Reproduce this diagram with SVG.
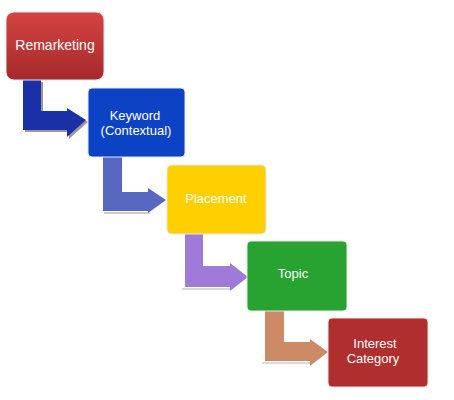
<svg xmlns="http://www.w3.org/2000/svg" width="454" height="400" viewBox="0 0 454 400">
<defs>
<linearGradient id="gRed" x1="0" y1="0" x2="0" y2="1">
<stop offset="0" stop-color="#d54343"/>
<stop offset="1" stop-color="#a52a2a"/>
</linearGradient>
<style>
.box{stroke:#e6e6e6;stroke-width:1}
.lbl{font-family:"Liberation Sans",Arial,sans-serif;font-size:13px;fill:#fff;text-anchor:middle}
.shadow{fill:#555;opacity:0.6}
</style>
</defs>
<rect width="454" height="400" fill="#fff"/>
<g id="connectors">
<path class="shadow" d="M25 82 H43 V113 H69 V110 L88 122 L69 139 V132 H25 Z"/>
<path id="c1" d="M23 80 H41 V111 H67 V108 L86 120 L67 137 V130 H23 Z" fill="#1b30a6"/>
<line x1="104" y1="213" x2="150" y2="213" stroke="#bbb" stroke-width="1.5"/>
<path id="c2" d="M103 157 H122 V192 H148 V188 L166 200 L148 213 V211 H103 Z" fill="#5868c0"/>
<line x1="182" y1="289" x2="230" y2="289" stroke="#ccc" stroke-width="1.5"/>
<path id="c3" d="M185 234 H203 V266 H230 V263 L248 277 L230 291 V287 H185 Z" fill="#a07ad8"/>
<line x1="262" y1="363" x2="310" y2="363" stroke="#ccc" stroke-width="1.5"/>
<path id="c4" d="M265 311 H284 V342 H310 V339 L328 352 L310 366 V361 H265 Z" fill="#cc8a66"/>
</g>
<g id="remarketing">
<rect class="box" x="6" y="12" width="98" height="68" rx="8" fill="url(#gRed)"/>
<text class="lbl" x="55" y="50" style="font-size:14px">Remarketing</text>
</g>
<g id="keyword">
<rect class="box" x="88" y="88" width="97" height="69" rx="4" fill="#0c43c4"/>
<text class="lbl" x="135" y="120">Keyword</text>
<text class="lbl" x="136" y="135">(Contextual)</text>
</g>
<g id="placement">
<rect class="box" x="167" y="165" width="99" height="69" rx="5" fill="#ffcf00"/>
<text class="lbl" x="216" y="203">Placement</text>
</g>
<g id="topic">
<rect class="box" x="247" y="241" width="100" height="70" rx="4" fill="#28a332"/>
<text class="lbl" x="293" y="278">Topic</text>
</g>
<g id="interest">
<rect class="box" x="328" y="318" width="100" height="69" rx="4" fill="#b02e2e"/>
<text class="lbl" x="375" y="348">Interest</text>
<text class="lbl" x="373" y="363">Category</text>
</g>
</svg>
